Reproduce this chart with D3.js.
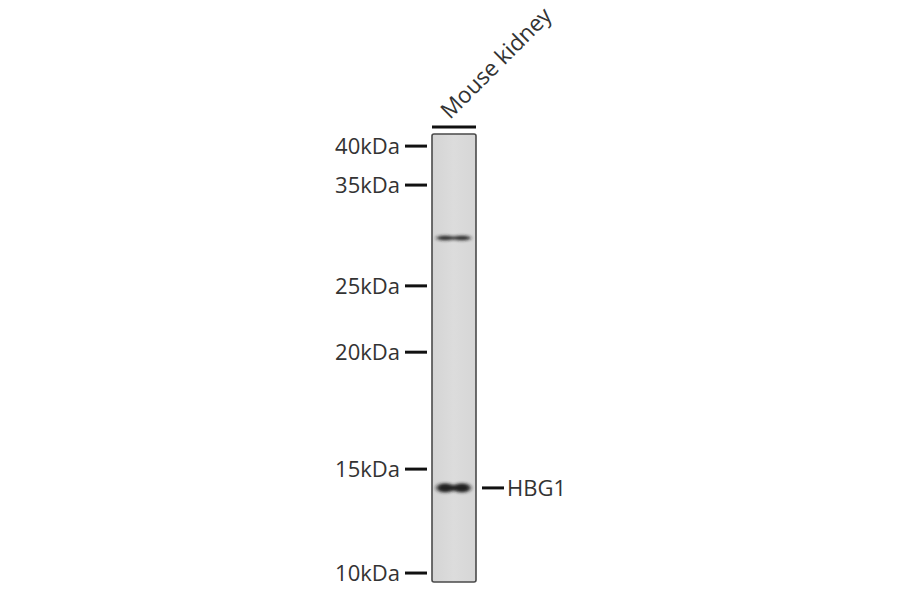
<!DOCTYPE html>
<html>
<head>
<meta charset="utf-8">
<script src="https://cdn.jsdelivr.net/npm/d3@7"></script>
<style>
  body { margin: 0; background: #fff; }
  svg { display: block; }
  text { font-family: "Open Sans", "DejaVu Sans", sans-serif; fill: #333; }
</style>
</head>
<body>
<svg id="blot" width="900" height="594"></svg>
<script>
// marker ladder: size (kDa) and migration as % of lane length
const markerKda = [40, 35, 25, 20, 15, 10];
const markerMigration = [2.7, 11.4, 33.9, 48.7, 74.8, 98.0];

// detected bands: migration %, peak darkness (0-1), thickness in % of lane
const bandMigration = [23.2, 79.0];
const bandDarkness = [0.8, 0.92];
const bandThickness = [1.1, 2.1];
const bandLabels = ["", "HBG1"];

const laneNames = ["Mouse kidney"];

const svg = d3.select("#blot");
const lane = { x: 432, w: 44, top: 134, bottom: 582 };

const y = d3.scaleLinear().domain([0, 100]).range([lane.top, lane.bottom]);
const x = d3.scaleBand().domain(laneNames).range([lane.x, lane.x + lane.w]);

const defs = svg.append("defs");
defs.append("filter").attr("id", "blur").attr("x", "-50%").attr("y", "-200%")
    .attr("width", "200%").attr("height", "500%")
    .append("feGaussianBlur").attr("stdDeviation", "2 1.8");
const grad = defs.append("linearGradient").attr("id", "laneFill")
    .attr("x1", 0).attr("x2", 1);
grad.append("stop").attr("offset", "0%").attr("stop-color", "#d4d4d4");
grad.append("stop").attr("offset", "50%").attr("stop-color", "#dcdcdc");
grad.append("stop").attr("offset", "100%").attr("stop-color", "#d6d6d6");

// lane
svg.selectAll("rect.lane").data(laneNames).join("rect")
    .attr("class", "lane")
    .attr("x", d => x(d))
    .attr("y", lane.top)
    .attr("width", x.bandwidth())
    .attr("height", lane.bottom - lane.top)
    .attr("rx", 2)
    .attr("fill", "url(#laneFill)")
    .attr("stroke", "#4a4a4a")
    .attr("stroke-width", 1.6);

// bar over lane + lane name
svg.selectAll("line.top").data(laneNames).join("line")
    .attr("x1", d => x(d)).attr("x2", d => x(d) + x.bandwidth())
    .attr("y1", lane.top - 7).attr("y2", lane.top - 7)
    .attr("stroke", "#111").attr("stroke-width", 3);

svg.selectAll("text.lane").data(laneNames).join("text")
    .attr("class", "lane")
    .attr("transform", d => `translate(${x(d) + x.bandwidth() / 2 - 4},${lane.top - 14}) rotate(-45)`)
    .attr("font-size", 22.5)
    .text(d => d);

// bands: two blurred lobes each
const bandG = svg.append("g").attr("filter", "url(#blur)");
bandMigration.forEach((m, i) => {
    const cy = y(m);
    const h = (y(bandThickness[i]) - y(0));
    const lobes = [0.3, 0.68];
    bandG.append("rect")
        .attr("x", lane.x + 6).attr("width", lane.w - 12)
        .attr("y", cy - h * 0.3).attr("height", h * 0.6)
        .attr("rx", h * 0.3)
        .attr("fill", "#222").attr("fill-opacity", bandDarkness[i] * 0.8);
    lobes.forEach(f => {
        bandG.append("ellipse")
            .attr("cx", lane.x + lane.w * f)
            .attr("cy", cy)
            .attr("rx", lane.w * 0.2)
            .attr("ry", h / 2)
            .attr("fill", "#1a1a1a").attr("fill-opacity", bandDarkness[i]);
    });
});

// markers
const mk = svg.append("g");
mk.selectAll("line").data(markerKda).join("line")
    .attr("x1", 405).attr("x2", 427)
    .attr("y1", (d, i) => y(markerMigration[i]))
    .attr("y2", (d, i) => y(markerMigration[i]))
    .attr("stroke", "#111").attr("stroke-width", 3);
mk.selectAll("text").data(markerKda).join("text")
    .attr("x", 400)
    .attr("y", (d, i) => y(markerMigration[i]))
    .attr("dy", "0.36em")
    .attr("text-anchor", "end")
    .attr("font-size", 22)
    .text(d => d + "kDa");

// band labels
const lab = bandMigration.map((m, i) => ({ m, t: bandLabels[i] })).filter(d => d.t);
svg.selectAll("line.bl").data(lab).join("line")
    .attr("class", "bl")
    .attr("x1", 482).attr("x2", 504)
    .attr("y1", d => y(d.m)).attr("y2", d => y(d.m))
    .attr("stroke", "#111").attr("stroke-width", 3);
svg.selectAll("text.bl").data(lab).join("text")
    .attr("class", "bl")
    .attr("x", 507)
    .attr("y", d => y(d.m))
    .attr("dy", "0.36em")
    .attr("font-size", 22)
    .text(d => d.t);
</script>
</body>
</html>
